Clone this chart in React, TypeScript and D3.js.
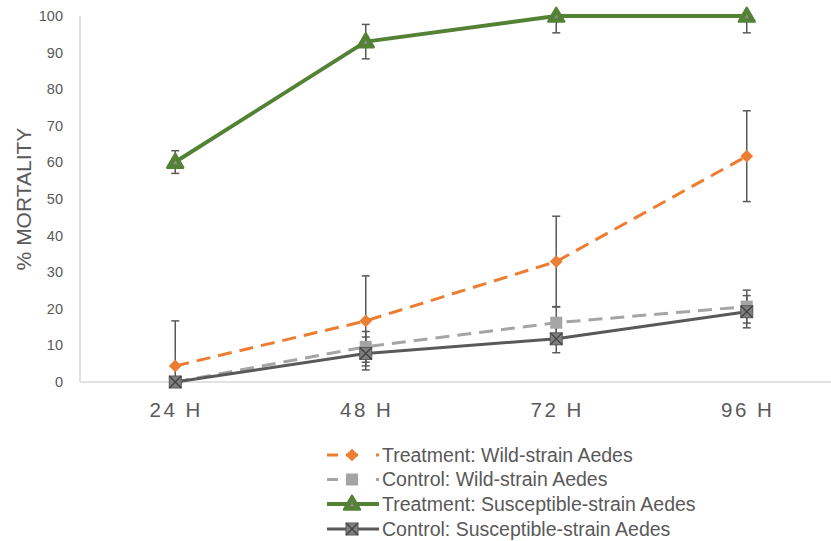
import { useEffect, useRef } from "react";
import * as d3 from "d3";

const hours = ["24 H", "48 H", "72 H", "96 H"];
const yTicks = [0, 10, 20, 30, 40, 50, 60, 70, 80, 90, 100];

const treatWild = [4.4, 16.7, 32.9, 61.7];
const treatWildErr = [12.3, 12.3, 12.4, 12.4];
const ctrlWild = [0, 9.6, 16.2, 20.6];
const ctrlWildErr = [0, 4.2, 4.4, 4.5];
const treatSusc = [60.1, 93, 100, 100];
const treatSuscErr = [3.1, 4.7, 4.6, 4.6];
const ctrlSusc = [0, 7.8, 11.8, 19.2];
const ctrlSuscErr = [0, 4.5, 3.8, 4.4];

const seriesNames = [
  "Treatment: Wild-strain Aedes",
  "Control: Wild-strain Aedes",
  "Treatment: Susceptible-strain Aedes",
  "Control: Susceptible-strain Aedes",
];

const W = 831;
const H = 541;
const font = "'Liberation Sans', Arial, sans-serif";
const textColor = "#595959";

const App = () => {
  const ref = useRef<SVGSVGElement>(null);

  useEffect(() => {
    const svg = d3.select(ref.current);
    svg.selectAll("*").remove();

    const x = d3.scaleBand().domain(hours).range([80, 842]);
    const y = d3.scaleLinear().domain([0, 100]).range([382, 16]);
    const cx = (i: number) => (x(hours[i]) as number) + x.bandwidth() / 2;

    // axes
    svg.append("line").attr("x1", 80).attr("x2", 80).attr("y1", 16).attr("y2", 382)
      .attr("stroke", "#d9d9d9").attr("stroke-width", 1.5);
    svg.append("line").attr("x1", 80).attr("x2", 831).attr("y1", 382).attr("y2", 382)
      .attr("stroke", "#d9d9d9").attr("stroke-width", 1.5);

    svg.append("g").selectAll("text").data(yTicks).enter().append("text")
      .attr("x", 63).attr("y", (d) => y(d)).attr("dy", "0.35em")
      .attr("text-anchor", "end").attr("font-family", font).attr("font-size", 14.5)
      .attr("fill", textColor).text((d) => d);

    svg.append("g").selectAll("text").data(hours).enter().append("text")
      .attr("x", (d, i) => cx(i) + 1).attr("y", 417)
      .attr("text-anchor", "middle").attr("font-family", font).attr("font-size", 20.5)
      .attr("letter-spacing", 2.5)
      .attr("fill", textColor).text((d) => d);

    svg.append("text")
      .attr("transform", "translate(31,199) rotate(-90)")
      .attr("text-anchor", "middle").attr("font-family", font).attr("font-size", 21)
      .attr("fill", textColor).text("% MORTALITY");

    const series = [
      { vals: treatWild, err: treatWildErr, color: "#ED7D31", width: 3, dash: "14,8", marker: "diamond" },
      { vals: ctrlWild, err: ctrlWildErr, color: "#A5A5A5", width: 3, dash: "14,8", marker: "square" },
      { vals: treatSusc, err: treatSuscErr, color: "#548235", width: 4, dash: null, marker: "triangle" },
      { vals: ctrlSusc, err: ctrlSuscErr, color: "#595959", width: 3, dash: null, marker: "xsquare" },
    ];

    const line = d3.line<number>().x((d, i) => cx(i)).y((d) => y(d));

    const drawMarker = (g: any, kind: string, px: number, py: number, color: string) => {
      if (kind === "diamond") {
        g.append("rect").attr("x", -4.5).attr("y", -4.5).attr("width", 9).attr("height", 9)
          .attr("transform", `translate(${px},${py}) rotate(45)`).attr("fill", color);
      } else if (kind === "square") {
        g.append("rect").attr("x", px - 6).attr("y", py - 6).attr("width", 12).attr("height", 12)
          .attr("fill", color);
      } else if (kind === "triangle") {
        g.append("path").attr("d", d3.symbol(d3.symbolTriangle, 110)())
          .attr("transform", `translate(${px},${py + 1})`).attr("fill", color)
          .attr("stroke", color).attr("stroke-width", 2.5).attr("stroke-linejoin", "round");
        g.append("path").attr("d", d3.symbol(d3.symbolTriangle, 8)())
          .attr("transform", `translate(${px},${py + 1})`).attr("fill", "#8c8c8c");
      } else {
        g.append("rect").attr("x", px - 6).attr("y", py - 6).attr("width", 12).attr("height", 12)
          .attr("fill", "#7f7f7f").attr("stroke", color).attr("stroke-width", 1);
        g.append("path").attr("d", `M${px - 6},${py - 6}L${px + 6},${py + 6}M${px + 6},${py - 6}L${px - 6},${py + 6}`)
          .attr("stroke", "#404040").attr("stroke-width", 1.2);
      }
    };

    // series lines
    series.forEach((s) => {
      svg.append("path").datum(s.vals).attr("d", line).attr("fill", "none")
        .attr("stroke", s.color).attr("stroke-width", s.width)
        .attr("stroke-dasharray", s.dash).attr("stroke-linejoin", "round");
    });

    // error bars
    const eg = svg.append("g").attr("stroke", "#595959").attr("stroke-width", 1.5);
    series.forEach((s) => {
      s.vals.forEach((v, i) => {
        if (!s.err[i]) return;
        const top = y(v + s.err[i]);
        const bot = y(Math.max(v - s.err[i], 0));
        const px = cx(i);
        eg.append("line").attr("x1", px).attr("x2", px).attr("y1", v >= 100 ? y(v) : top).attr("y2", bot);
        if (v < 100) eg.append("line").attr("x1", px - 4).attr("x2", px + 4).attr("y1", top).attr("y2", top);
        eg.append("line").attr("x1", px - 4).attr("x2", px + 4).attr("y1", bot).attr("y2", bot);
      });
    });

    // markers
    series.forEach((s) => {
      const mg = svg.append("g");
      s.vals.forEach((v, i) => drawMarker(mg, s.marker, cx(i), y(v), s.color));
    });

    // legend
    const legY = [455, 479.5, 504, 529];
    series.forEach((s, i) => {
      const lg = svg.append("g");
      const ly = legY[i];
      if (s.dash) {
        lg.append("line").attr("x1", 327).attr("x2", 338).attr("y1", ly).attr("y2", ly)
          .attr("stroke", s.color).attr("stroke-width", 3);
        lg.append("line").attr("x1", 346).attr("x2", 358).attr("y1", ly).attr("y2", ly)
          .attr("stroke", s.color).attr("stroke-width", 3);
        lg.append("line").attr("x1", 376).attr("x2", 379).attr("y1", ly).attr("y2", ly)
          .attr("stroke", s.color).attr("stroke-width", 3);
      } else {
        lg.append("line").attr("x1", 327).attr("x2", 379).attr("y1", ly).attr("y2", ly)
          .attr("stroke", s.color).attr("stroke-width", s.width);
      }
      drawMarker(lg, s.marker, 352, ly, s.color);
      lg.append("text").attr("x", 382).attr("y", ly).attr("dy", "0.35em")
        .attr("font-family", font).attr("font-size", 19.5).attr("fill", textColor)
        .text(seriesNames[i]);
    });
  }, []);

  return (
    <svg ref={ref} width={W} height={H} style={{ position: "absolute", left: 0, top: 0, background: "#fff" }} />
  );
};

export default App;
